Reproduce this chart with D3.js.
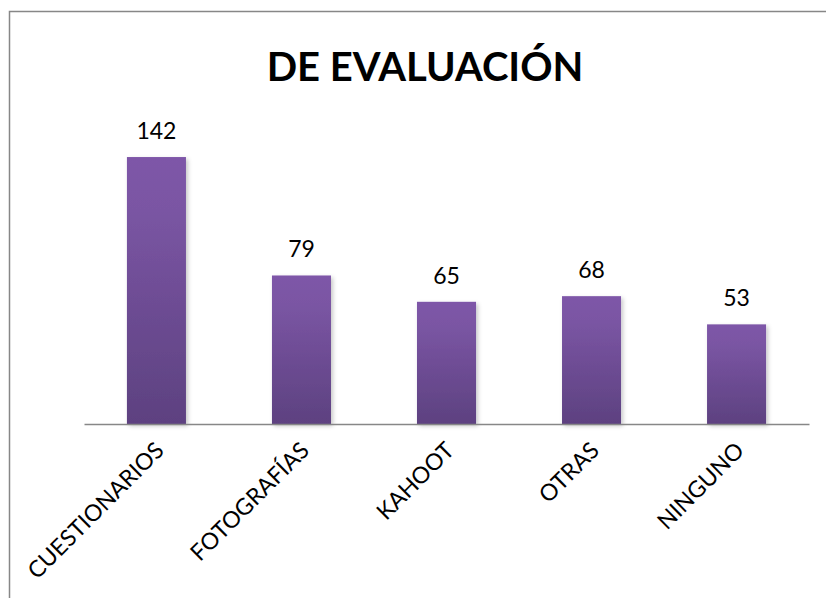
<!DOCTYPE html>
<html>
<head>
<meta charset="utf-8">
<script src="https://cdn.jsdelivr.net/npm/d3@7"></script>
<style>
  body { margin: 0; background: #fff; }
  svg { display: block; }
</style>
</head>
<body>
<div id="chart"></div>
<script>
// data
var categories = ['CUESTIONARIOS', 'FOTOGRAFÍAS', 'KAHOOT', 'OTRAS', 'NINGUNO'];
var values = [142, 79, 65, 68, 53];
var title = 'DE EVALUACIÓN';

var width = 826, height = 598;
var font = 'Lato, "Open Sans", sans-serif';

var svg = d3
  .select('#chart')
  .append('svg')
  .attr('width', width)
  .attr('height', height);

// gradient + soft shadow for the bars
var defs = svg.append('defs');
var grad = defs.append('linearGradient')
  .attr('id', 'barGrad')
  .attr('x1', 0).attr('y1', 0).attr('x2', 0).attr('y2', 1);
grad.append('stop').attr('offset', '0%').attr('stop-color', '#7e57a8');
grad.append('stop').attr('offset', '20%').attr('stop-color', '#7a55a3');
grad.append('stop').attr('offset', '100%').attr('stop-color', '#5d4180');

var shadow = defs.append('filter').attr('id', 'shadow')
  .attr('x', '-20%').attr('y', '-5%').attr('width', '150%').attr('height', '115%');
shadow.append('feDropShadow')
  .attr('dx', 2).attr('dy', 2).attr('stdDeviation', 2)
  .attr('flood-color', '#000').attr('flood-opacity', 0.22);

// chart frame (runs off the right and bottom of the picture)
svg.append('rect')
  .attr('x', 9.5).attr('y', 11.5)
  .attr('width', 900).attr('height', 700)
  .attr('fill', 'none')
  .attr('stroke', '#878787')
  .attr('stroke-width', 1.5);

// scales
var x = d3.scaleBand()
  .domain(categories)
  .range([84, 809])
  .paddingInner(0.593)
  .paddingOuter(0.296);

var y = d3.scaleLinear()
  .domain([0, 160])
  .range([424, 424 - 160 * 1.88]);

// title
svg.append('text')
  .attr('x', 425)
  .attr('y', 81)
  .attr('text-anchor', 'middle')
  .style('font-family', font)
  .style('font-weight', 'bold')
  .style('font-size', '40px')
  .style('fill', '#000')
  .text(title);

// bars
svg.selectAll('.bar')
  .data(values)
  .enter()
  .append('rect')
  .attr('class', 'bar')
  .attr('x', function (d, i) { return x(categories[i]); })
  .attr('y', function (d) { return y(d); })
  .attr('width', x.bandwidth())
  .attr('height', function (d) { return y(0) - y(d); })
  .attr('fill', 'url(#barGrad)')
  .attr('filter', 'url(#shadow)');

// value labels
svg.selectAll('.val')
  .data(values)
  .enter()
  .append('text')
  .attr('class', 'val')
  .attr('x', function (d, i) { return x(categories[i]) + x.bandwidth() / 2; })
  .attr('y', function (d) { return y(d) - 18; })
  .attr('text-anchor', 'middle')
  .style('font-family', font)
  .style('font-size', '23px')
  .style('fill', '#000')
  .text(function (d) { return d; });

// x axis
var xAxis = svg.append('g')
  .attr('transform', 'translate(0,' + y(0) + ')')
  .call(d3.axisBottom(x).tickSize(0).tickSizeOuter(0).tickPadding(0));

xAxis.select('.domain')
  .attr('stroke', '#878787')
  .attr('stroke-width', 1.5);

xAxis.selectAll('text')
  .style('font-family', font)
  .style('font-size', '23px')
  .style('fill', '#000')
  .attr('text-anchor', 'end')
  .attr('dy', 0)
  .attr('transform', 'translate(9,28) rotate(-45)');
</script>
</body>
</html>
